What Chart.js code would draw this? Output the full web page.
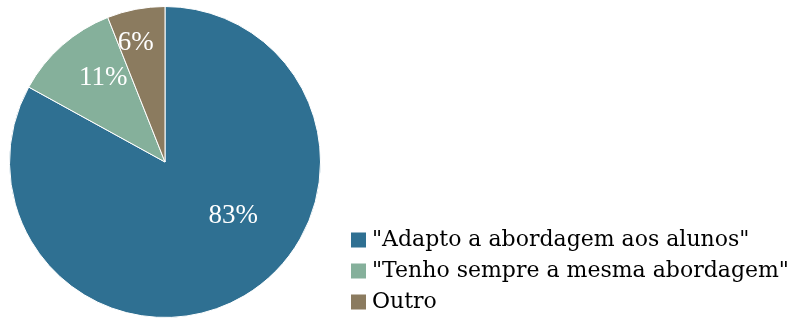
<!DOCTYPE html>
<html>
<head>
<meta charset="utf-8">
<script src="https://cdn.jsdelivr.net/npm/chart.js@4/dist/chart.umd.min.js"></script>
<style>
  html, body { margin: 0; padding: 0; background: #fff; }
  #wrap { width: 797px; height: 318px; }
</style>
</head>
<body>
<div id="wrap"><canvas id="pieChart"></canvas></div>
<script>
const respostas = ['"Adapto a abordagem aos alunos"', '"Tenho sempre a mesma abordagem"', 'Outro'];
const percentagens = [83, 11, 6];
const cores = ['#2f7092', '#85b09b', '#8b7b5f'];

// label placement: angle shift (deg) from slice middle, distance as fraction of radius
const labelPos = [[-21, 0.56], [5, 0.67], [-3, 0.79]];

const pieLabels = {
    id: 'pieLabels',
    afterDatasetsDraw(chart) {
        const ctx = chart.ctx;
        const meta = chart.getDatasetMeta(0);
        ctx.save();
        ctx.fillStyle = '#ffffff';
        ctx.font = '27px "Liberation Serif"';
        ctx.textAlign = 'center';
        ctx.textBaseline = 'middle';
        meta.data.forEach(function(arc, i) {
            const mid = (arc.startAngle + arc.endAngle) / 2 + labelPos[i][0] * Math.PI / 180;
            const r = arc.outerRadius * labelPos[i][1];
            ctx.fillText(percentagens[i] + '%', arc.x + Math.cos(mid) * r, arc.y + Math.sin(mid) * r);
        });
        ctx.restore();
    }
};

const sideLegend = {
    id: 'sideLegend',
    afterDraw(chart) {
        const ctx = chart.ctx;
        ctx.save();
        ctx.font = '22px "DejaVu Serif"';
        ctx.textBaseline = 'middle';
        respostas.forEach(function(txt, i) {
            const y = 240 + i * 31;
            ctx.fillStyle = cores[i];
            ctx.fillRect(351, y - 7.5, 15, 15);
            ctx.fillStyle = '#000000';
            ctx.fillText(txt, 372, y);
        });
        ctx.restore();
    }
};

const ctx = document.getElementById('pieChart').getContext('2d');

const salesChart = new Chart(ctx, {
    type: 'pie',
    data: {
        labels: respostas,
        datasets: [{
            data: percentagens,
            backgroundColor: cores,
            borderColor: '#ffffff',
            borderWidth: 1
        }]
    },
    options: {
        responsive: true,
        maintainAspectRatio: false,
        animation: false,
        layout: {
            padding: { left: 9, top: 6, right: 476, bottom: 0 }
        },
        plugins: {
            legend: { display: false },
            tooltip: { enabled: false }
        }
    },
    plugins: [pieLabels, sideLegend]
});
</script>
</body>
</html>
